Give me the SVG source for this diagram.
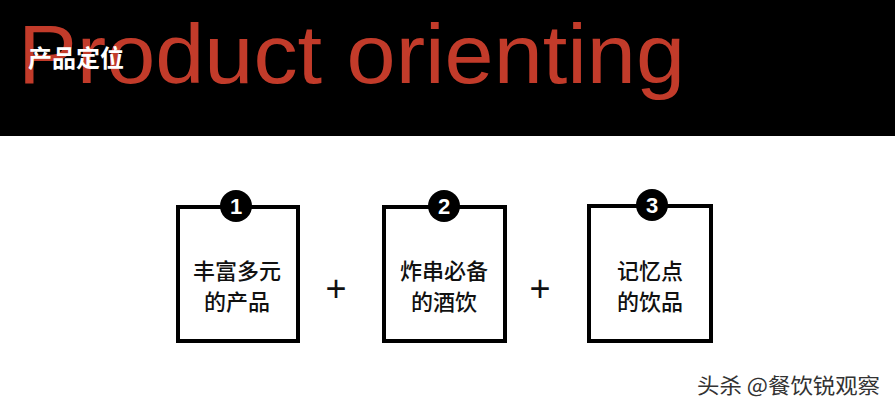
<svg xmlns="http://www.w3.org/2000/svg" width="895" height="414" viewBox="0 0 895 414">
<style>
.box{fill:#fff;stroke:#000;stroke-width:4}
.num{fill:#000}
.numt{fill:#fff;font-family:"Liberation Sans",Arial,sans-serif;font-weight:bold;font-size:22px;text-anchor:middle}
.lbl{fill:#111;font-family:"Noto Sans CJK SC","Noto Sans",sans-serif;font-weight:500;font-size:22px;text-anchor:middle}
.plus{fill:#111;font-family:"Liberation Sans",Arial,sans-serif;font-size:36px;text-anchor:middle}
</style>
<rect x="0" y="0" width="895" height="414" fill="#fff"/>
<rect x="0" y="0" width="895" height="136" fill="#000"/>
<text x="18" y="83" font-family="'Liberation Sans',Arial,sans-serif" font-size="84" fill="#c23b2a" textLength="667" lengthAdjust="spacingAndGlyphs">Product orienting</text>
<text x="28" y="67" font-family="'Noto Sans CJK SC',sans-serif" font-weight="bold" font-size="24" fill="#fff">产品定位</text>
<g id="node1">
<rect class="box" x="178" y="207" width="120" height="134"/>
<circle class="num" cx="236" cy="206" r="16"/>
<text class="numt" x="236" y="214">1</text>
<text class="lbl" x="237" y="279">丰富多元</text>
<text class="lbl" x="237" y="310">的产品</text>
</g>
<g id="node2">
<rect class="box" x="384" y="207" width="121" height="134"/>
<circle class="num" cx="444" cy="206" r="16"/>
<text class="numt" x="444" y="214">2</text>
<text class="lbl" x="444" y="279">炸串必备</text>
<text class="lbl" x="444" y="310">的酒饮</text>
</g>
<g id="node3">
<rect class="box" x="589" y="206" width="122" height="135"/>
<circle class="num" cx="652" cy="205" r="16"/>
<text class="numt" x="652" y="213">3</text>
<text class="lbl" x="650" y="279">记忆点</text>
<text class="lbl" x="650" y="310">的饮品</text>
</g>
<g id="connectors">
<text class="plus" x="336" y="301">+</text>
<text class="plus" x="540" y="301">+</text>
</g>
<text x="697" y="393" font-family="'Noto Sans CJK SC',sans-serif" font-size="21" fill="#333" textLength="183" lengthAdjust="spacingAndGlyphs">头杀 @餐饮锐观察</text>
</svg>
